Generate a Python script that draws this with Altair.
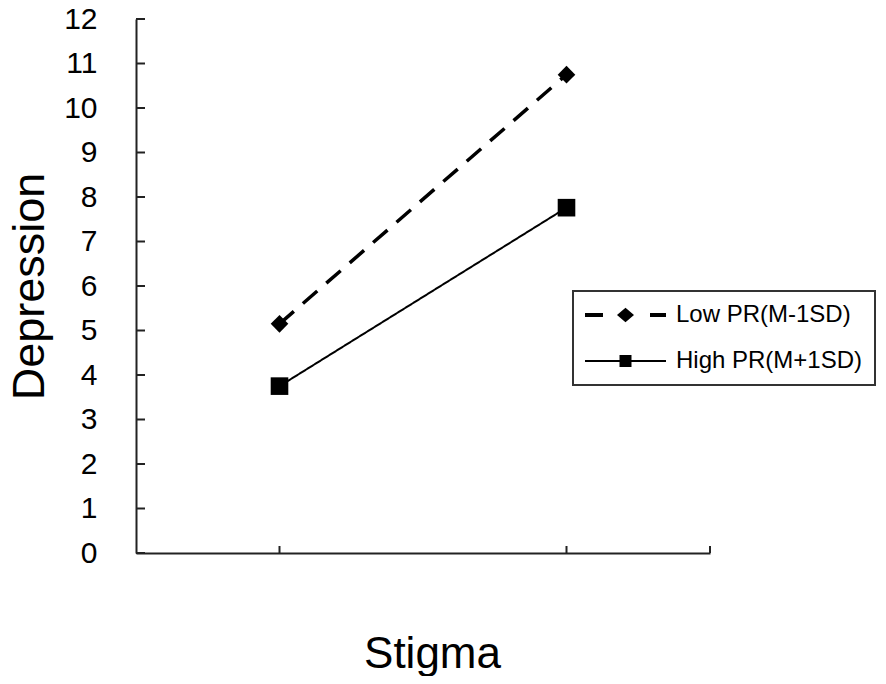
import altair as alt
import pandas as pd

# ---- data ----
series = ["Low PR(M-1SD)", "High PR(M+1SD)"]
x_pos = [1, 3]                    # low stigma, high stigma (category slots)
low_pr = [5.15, 10.75]
high_pr = [3.75, 7.76]
y_ticks = list(range(0, 13))
x_ticks = [1, 3, 4]

rows = []
for name, vals in zip(series, [low_pr, high_pr]):
    for xv, yv in zip(x_pos, vals):
        rows.append({"series": name, "x": xv, "y": yv})
df = pd.DataFrame(rows)

FONT = "Liberation Sans"
W, H = 574, 534
TOP = 11

xscale = alt.Scale(domain=[0, 4], nice=False, zero=False)
yscale = alt.Scale(domain=[0, 12], nice=False)

x_enc = alt.X("x:Q", scale=xscale,
              axis=alt.Axis(labels=False, ticks=False, grid=False,
                            title="Stigma", titleFont=FONT, titleFontSize=44,
                            titleFontWeight="normal", titleColor="black",
                            titleX=296, titleY=114, titleBaseline="alphabetic",
                            domainColor="#222", domainWidth=2))
y_enc = alt.Y("y:Q", scale=yscale,
              axis=alt.Axis(values=y_ticks, ticks=False, grid=False,
                            labelFont=FONT, labelFontSize=30, labelColor="black",
                            labelPadding=39,
                            title="Depression", titleFont=FONT, titleFontSize=45,
                            titleFontWeight="normal", titleColor="black",
                            titleAngle=270, titleX=-93, titleY=H / 2,
                            titleBaseline="alphabetic", titleAlign="center",
                            domainColor="#222", domainWidth=2))

base = alt.Chart(df)

lines = base.mark_line(color="black").encode(
    x=x_enc, y=y_enc,
    strokeDash=alt.StrokeDash("series:N", scale=alt.Scale(domain=series, range=[[19, 12], [1, 0]]), legend=None),
    strokeWidth=alt.StrokeWidth("series:N", scale=alt.Scale(domain=series, range=[3.5, 2]), legend=None),
    detail="series:N",
)

points = base.mark_point(filled=True, color="black", size=310, opacity=1).encode(
    x="x:Q", y="y:Q",
    shape=alt.Shape("series:N", scale=alt.Scale(domain=series, range=["diamond", "square"]), legend=None),
)

low_sym = ("M-1,-0.05H-0.556V0.05H-1Z "
           "M-0.21,0L0,-0.18L0.21,0L0,0.18Z "
           "M0.605,-0.05H1V0.05H0.605Z")
high_sym = ("M-1,-0.025H1V0.025H-1Z "
            "M-0.148,-0.148H0.148V0.148H-0.148Z")

legend_layer = base.mark_point(filled=True, color="black", size=1, opacity=0).encode(
    x="x:Q", y="y:Q",
    shape=alt.Shape("series:N",
                    scale=alt.Scale(domain=series, range=[low_sym, high_sym]),
                    legend=alt.Legend(title=None, orient="none", legendX=437, legendY=291 - 8 - TOP,
                                      symbolSize=6561, symbolFillColor="black",
                                      symbolStrokeWidth=0, symbolOpacity=1,
                                      clipHeight=24,
                                      labelFont=FONT, labelFontSize=24, labelColor="black",
                                      labelLimit=400,
                                      labelOffset=10, rowPadding=22, padding=12,
                                      strokeColor="#333")),
)

ytick_df = pd.DataFrame({"v": y_ticks})
yticks = alt.Chart(ytick_df).mark_rule(color="#222", strokeWidth=2).encode(
    y=alt.Y("v:Q", scale=yscale, axis=alt.Axis(grid=False)), x=alt.value(0), x2=alt.value(9))

xtick_df = pd.DataFrame({"v": x_ticks})
xticks = alt.Chart(xtick_df).mark_rule(color="#222", strokeWidth=2).encode(
    x=alt.X("v:Q", scale=xscale, axis=alt.Axis(grid=False)), y=alt.value(H), y2=alt.value(H - 7))

chart = alt.layer(lines, points, legend_layer, yticks, xticks).resolve_scale(
    shape="independent"
).properties(
    width=W, height=H,
    background="white",
    autosize=alt.AutoSizeParams(type="none"),
    padding={"left": 128, "top": TOP, "right": 168, "bottom": 668 - TOP - H},
).configure_view(stroke="transparent").configure_axis(grid=False).configure_legend(
    strokeWidth=2
)

chart.save("out.html", embed_options={"renderer": "svg", "actions": False})
